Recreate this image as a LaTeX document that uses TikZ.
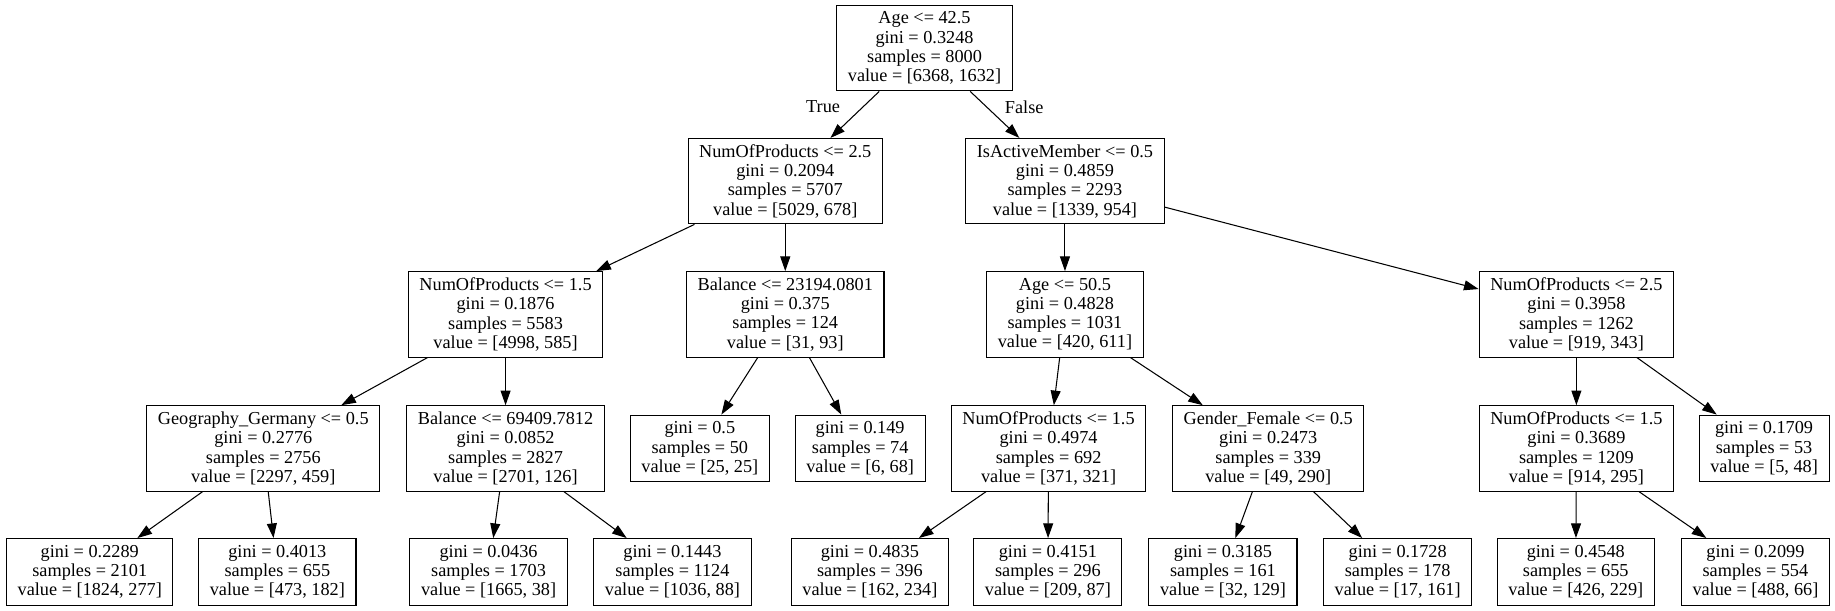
\documentclass[tikz,border=0pt]{standalone}
\usepackage{fontspec}
\setmainfont{Liberation Serif}
\usetikzlibrary{arrows.meta}

\begin{document}
\begin{tikzpicture}[x=1pt, y=-1pt, font=\fontsize{15.6}{16.5}\selectfont,
    split/.style={draw, line width=0.9pt, align=center, inner xsep=9.5pt, minimum height=73pt},
    leaf/.style={split, minimum height=57pt},
    edge/.style={-{Triangle[length=12.5pt, width=8.5pt]}, line width=0.9pt}]

    \useasboundingbox (0,0) rectangle (1568,522);

    % root and first split
    \node[split] (root) at (790,41.2) {Age <= 42.5\\gini = 0.3248\\samples = 8000\\value = [6368, 1632]};
    \node[split] (prod) at (671,154.8) {NumOfProducts <= 2.5\\gini = 0.2094\\samples = 5707\\value = [5029, 678]};
    \node[split] (active) at (910,154.8) {IsActiveMember <= 0.5\\gini = 0.4859\\samples = 2293\\value = [1339, 954]};

    % second level
    \node[split] (prodlow) at (432,268.6) {NumOfProducts <= 1.5\\gini = 0.1876\\samples = 5583\\value = [4998, 585]};
    \node[split] (balance) at (671,268.6) {Balance <= 23194.0801\\gini = 0.375\\samples = 124\\value = [31, 93]};
    \node[split] (age) at (910,268.6) {Age <= 50.5\\gini = 0.4828\\samples = 1031\\value = [420, 611]};
    \node[split] (prodhigh) at (1347,268.6) {NumOfProducts <= 2.5\\gini = 0.3958\\samples = 1262\\value = [919, 343]};

    % third level
    \node[split] (geo) at (225,383.2) {Geography\_Germany <= 0.5\\gini = 0.2776\\samples = 2756\\value = [2297, 459]};
    \node[split] (balhigh) at (432,383.2) {Balance <= 69409.7812\\gini = 0.0852\\samples = 2827\\value = [2701, 126]};
    \node[leaf] (leafa) at (598,383.2) {gini = 0.5\\samples = 50\\value = [25, 25]};
    \node[leaf] (leafb) at (735,383.2) {gini = 0.149\\samples = 74\\value = [6, 68]};
    \node[split] (prodmid) at (896,383.2) {NumOfProducts <= 1.5\\gini = 0.4974\\samples = 692\\value = [371, 321]};
    \node[split] (gender) at (1083.7,383.2) {Gender\_Female <= 0.5\\gini = 0.2473\\samples = 339\\value = [49, 290]};
    \node[split] (prodright) at (1347,383.2) {NumOfProducts <= 1.5\\gini = 0.3689\\samples = 1209\\value = [914, 295]};
    \node[leaf] (leafc) at (1507.4,383.2) {gini = 0.1709\\samples = 53\\value = [5, 48]};

    % bottom leaves
    \node[leaf] (leafd) at (76.7,488.7) {gini = 0.2289\\samples = 2101\\value = [1824, 277]};
    \node[leaf] (leafe) at (237,488.7) {gini = 0.4013\\samples = 655\\value = [473, 182]};
    \node[leaf] (leaff) at (417.5,488.7) {gini = 0.0436\\samples = 1703\\value = [1665, 38]};
    \node[leaf] (leafg) at (574.6,488.7) {gini = 0.1443\\samples = 1124\\value = [1036, 88]};
    \node[leaf] (leafh) at (743.3,488.7) {gini = 0.4835\\samples = 396\\value = [162, 234]};
    \node[leaf] (leafi) at (895.4,488.7) {gini = 0.4151\\samples = 296\\value = [209, 87]};
    \node[leaf] (leafj) at (1045,488.7) {gini = 0.3185\\samples = 161\\value = [32, 129]};
    \node[leaf] (leafk) at (1194.3,488.7) {gini = 0.1728\\samples = 178\\value = [17, 161]};
    \node[leaf] (leafl) at (1346.5,488.7) {gini = 0.4548\\samples = 655\\value = [426, 229]};
    \node[leaf] (leafm) at (1500,488.7) {gini = 0.2099\\samples = 554\\value = [488, 66]};

    \begin{scope}[edge]
        \draw (root) -- node[pos=0.33, left=16pt] {True} (prod);
        \draw (root) -- node[pos=0.33, right=12pt] {False} (active);
        \draw (prod) -- (prodlow);
        \draw (prod) -- (balance);
        \draw (active) -- (age);
        \draw (active) -- (prodhigh);
        \draw (prodlow) -- (geo);
        \draw (prodlow) -- (balhigh);
        \draw (balance) -- (leafa);
        \draw (balance) -- (leafb);
        \draw (age) -- (prodmid);
        \draw (age) -- (gender);
        \draw (prodhigh) -- (prodright);
        \draw (prodhigh) -- (leafc);
        \draw (geo) -- (leafd);
        \draw (geo) -- (leafe);
        \draw (balhigh) -- (leaff);
        \draw (balhigh) -- (leafg);
        \draw (prodmid) -- (leafh);
        \draw (prodmid) -- (leafi);
        \draw (gender) -- (leafj);
        \draw (gender) -- (leafk);
        \draw (prodright) -- (leafl);
        \draw (prodright) -- (leafm);
    \end{scope}

\end{tikzpicture}
\end{document}
